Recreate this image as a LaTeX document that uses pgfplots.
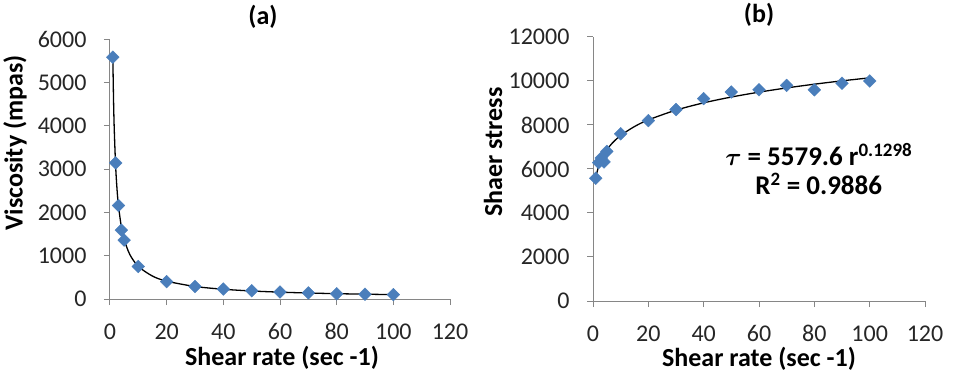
\documentclass[border=0pt]{standalone}
\usepackage{pgfplots}
\pgfplotsset{compat=1.18}
\usepackage{bm}
\usepackage{fontspec}
\setmainfont{Carlito}
\definecolor{mk}{HTML}{4A7EBB}
\definecolor{ax}{HTML}{868686}
\begin{document}
\begin{tikzpicture}
\useasboundingbox (0pt,0pt) rectangle (953pt,375pt);
\pgfplotsset{
  every axis/.append style={
    scale only axis,
    anchor=south west,
    axis x line=bottom, axis y line=left,
    axis line style={ax, line width=1pt, -},
    tick style={ax, line width=1pt},
    tick align=outside,
    major tick length=6pt,
    xmin=0, xmax=120, xtick={0,20,...,120},
    ymin=0,
    scaled y ticks=false, scaled x ticks=false,
    /pgf/number format/assume math mode=true,
    /pgf/number format/1000 sep={},
    /pgf/number format/fixed, /pgf/number format/precision=0,
    tick label style={font=\fontsize{24}{26}\selectfont, text=black!85},
    xticklabel style={yshift=-15pt},
    yticklabel style={xshift=-14pt},
    label style={font=\fontsize{26}{28}\selectfont\bfseries},
    clip=false,
  }
}
% ---------- (a)
\begin{axis}[at={(110pt,76pt)}, width=340pt, height=260pt,
  ymax=6000, ytick={0,1000,...,6000},
  xlabel={Shear rate (sec -1)},
  ylabel={Viscosity (mpas)},
  xlabel style={at={(axis description cs:0.506,-0.226)}, anchor=center},
  ylabel style={at={(axis description cs:-0.279,0.6)}, anchor=center},
]
\addplot[black, line width=1.3pt, smooth, no marks] coordinates {
 (1,5579.6) (1.25,4595) (1.5,3921) (2,3052) (2.5,2514) (3,2145) (4,1670) (5,1375) (7,1026) (10,752) (15,529) (20,412) (30,289) (40,225) (50,185) (60,158) (70,138) (80,123) (90,111) (100,101)};
\addplot[only marks, mark=square*, mark size=4.5pt, mark options={rotate=45, fill=mk, draw=mk}] coordinates {
 (1,5580) (2,3140) (3,2160) (4,1590) (5,1360) (10,750) (20,400) (30,290) (40,230) (50,190) (60,160) (70,140) (80,120) (90,110) (100,100)};
\node[font=\fontsize{26}{28}\selectfont\bfseries, anchor=center] at (axis description cs:0.45,1.085) {(a)};
\end{axis}
% ---------- (b)
\begin{axis}[at={(593pt,74pt)}, width=332pt, height=264pt,
  ymax=12000, ytick={0,2000,...,12000},
  xlabel={Shear rate (sec -1)},
  ylabel={Shaer stress},
  xlabel style={at={(axis description cs:0.5,-0.22)}, anchor=center},
  ylabel style={at={(axis description cs:-0.301,0.564)}, anchor=center},
]
\addplot[black, line width=1.3pt, smooth, no marks] coordinates {
 (1,5579.6) (1.5,5881) (2,6105) (3,6435) (4,6679) (5,6876) (7,7183) (10,7524) (15,7930) (20,8232) (30,8676) (40,9007) (50,9271) (60,9493) (70,9685) (80,9855) (90,10007) (100,10144)};
\addplot[only marks, mark=square*, mark size=4.5pt, mark options={rotate=45, fill=mk, draw=mk}] coordinates {
 (1,5580) (2,6290) (3,6500) (4,6320) (5,6800) (10,7600) (20,8200) (30,8700) (40,9200) (50,9500) (60,9600) (70,9800) (80,9600) (90,9900) (100,10000)};
\node[font=\fontsize{26}{28}\selectfont\bfseries, anchor=center] at (axis description cs:0.5,1.083) {(b)};
\node[font=\fontsize{27}{29}\selectfont\bfseries, anchor=center] at (axis description cs:0.68,0.555) {$\bm{\tau}$ = 5579.6 r\textsuperscript{\fontsize{19}{20}\selectfont 0.1298}};
\node[font=\fontsize{27}{29}\selectfont\bfseries, anchor=center] at (axis description cs:0.680,0.445) {R\textsuperscript{2} = 0.9886};
\end{axis}
\end{tikzpicture}
\end{document}
